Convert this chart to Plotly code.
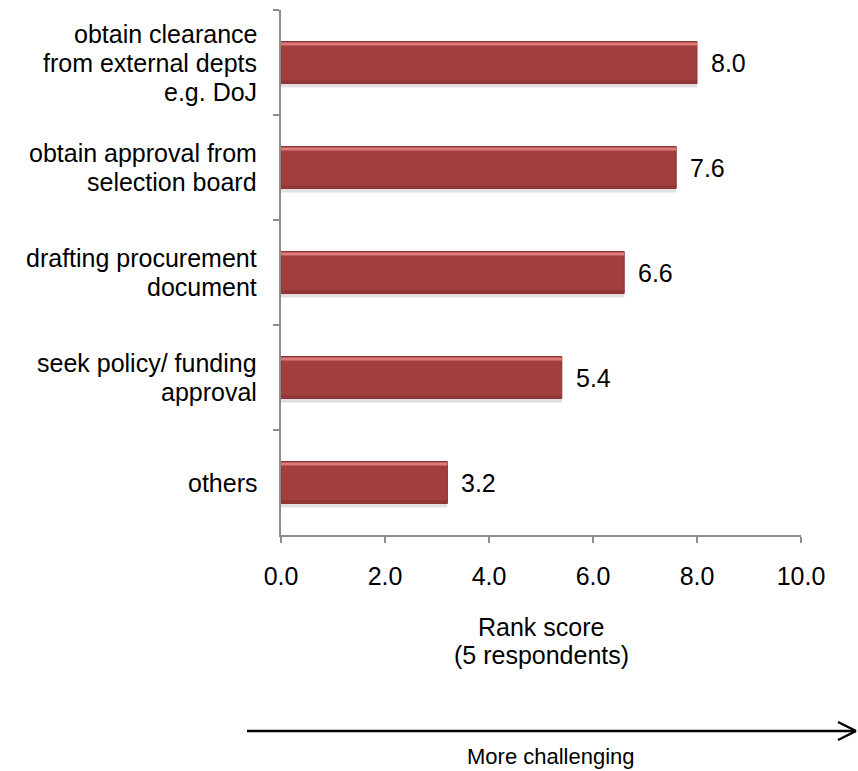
import plotly.graph_objects as go

categories = [
    "obtain clearance<br>from external depts<br>e.g. DoJ",
    "obtain approval from<br>selection board",
    "drafting procurement<br>document",
    "seek policy/ funding<br>approval",
    "others",
]
scores = [8.0, 7.6, 6.6, 5.4, 3.2]
x_ticks = [0, 2, 4, 6, 8, 10]
x_tick_labels = ["0.0", "2.0", "4.0", "6.0", "8.0", "10.0"]
axis_title_lines = ["Rank score", "(5 respondents)"]
direction_label = "More challenging"

FONT = "Liberation Sans, Arial, sans-serif"
FS = 25
W, H = 858, 771
L, R, T, B = 281, 57, 10, 236
pw, ph = W - L - R, H - T - B

BAR_W = 0.4            # bar thickness in category units
UNIT = BAR_W / 42.0    # one pixel in category units


def px(x):
    return (x - L) / pw


def py(y):
    return (H - B - y) / ph


fig = go.Figure()

# soft drop shadow under each bar
fig.add_trace(go.Bar(
    y=categories, x=scores, orientation="h",
    width=BAR_W, offset=-BAR_W / 2 + 4 * UNIT,
    marker=dict(color="rgba(0,0,0,0.12)", line=dict(width=0)),
    hoverinfo="skip",
))
# main bar body
fig.add_trace(go.Bar(
    y=categories, x=scores, orientation="h",
    width=BAR_W, offset=-BAR_W / 2,
    marker=dict(color="#A13F3E", line=dict(color="#8A3433", width=1)),
    hoverinfo="skip",
))
# light bevel along the upper edge
fig.add_trace(go.Bar(
    y=categories, x=scores, orientation="h",
    width=3 * UNIT, offset=-BAR_W / 2 + 1 * UNIT,
    marker=dict(color="#DD7B79", line=dict(width=0)),
    hoverinfo="skip",
))
# dark bevel along the lower edge
fig.add_trace(go.Bar(
    y=categories, x=scores, orientation="h",
    width=2 * UNIT, offset=BAR_W / 2 - 3 * UNIT,
    marker=dict(color="#8C3433", line=dict(width=0)),
    hoverinfo="skip",
))

annotations = []

# category labels, right aligned, one annotation per line for tight spacing
LINE_H = 29
for cat in categories:
    lines = cat.split("<br>")
    n = len(lines)
    for i, ln in enumerate(lines):
        annotations.append(dict(
            text=ln, xref="paper", yref="y", x=0, y=cat,
            xanchor="right", yanchor="middle", xshift=-22,
            yshift=((n - 1) / 2 - i) * LINE_H, showarrow=False,
            font=dict(family=FONT, size=FS, color="#000"),
        ))

# value labels at the end of each bar
for cat, v in zip(categories, scores):
    annotations.append(dict(
        text=f"{v:.1f}", xref="x", yref="y", x=v, y=cat,
        xanchor="left", yanchor="middle", xshift=12, showarrow=False,
        font=dict(family=FONT, size=FS, color="#000"),
    ))

# axis title
for i, ln in enumerate(axis_title_lines):
    annotations.append(dict(
        text=ln, xref="paper", yref="paper", x=px(541), y=py(627 + 28 * i),
        xanchor="center", yanchor="middle", showarrow=False,
        font=dict(family=FONT, size=FS, color="#000"),
    ))

annotations.append(dict(
    text=direction_label, xref="paper", yref="paper", x=px(551), y=py(756),
    xanchor="center", yanchor="middle", showarrow=False,
    font=dict(family=FONT, size=22, color="#000"),
))

# open arrow pointing towards higher difficulty
ay = 731
tip = 856
arrow_line = dict(color="#000", width=2.5)
shapes = [
    dict(type="line", xref="paper", yref="paper",
         x0=px(247), x1=px(tip), y0=py(ay), y1=py(ay), line=arrow_line),
    dict(type="line", xref="paper", yref="paper",
         x0=px(838), x1=px(tip), y0=py(ay - 9), y1=py(ay), line=arrow_line),
    dict(type="line", xref="paper", yref="paper",
         x0=px(838), x1=px(tip), y0=py(ay + 9), y1=py(ay), line=arrow_line),
]

fig.update_layout(
    width=W, height=H,
    margin=dict(l=L, r=R, t=T, b=B),
    paper_bgcolor="white", plot_bgcolor="white",
    showlegend=False, barmode="overlay",
    font=dict(family=FONT, size=FS, color="#000"),
    shapes=shapes, annotations=annotations,
)
fig.update_xaxes(
    range=[0, 10], tickvals=x_ticks, ticktext=x_tick_labels,
    showgrid=False, zeroline=False, showline=True, linecolor="#8C8C8C", linewidth=1.5,
    ticks="outside", ticklen=6, tickcolor="#8C8C8C", tickwidth=1.5,
    tickfont=dict(family=FONT, size=FS), ticklabelstandoff=12,
)
fig.update_yaxes(
    autorange="reversed", showgrid=False, zeroline=False,
    showline=True, linecolor="#8C8C8C", linewidth=1.5,
    ticks="outside", ticklen=6, tickcolor="#8C8C8C", tickwidth=1.5,
    tickson="boundaries", showticklabels=False,
)

fig.write_html("out.html")
